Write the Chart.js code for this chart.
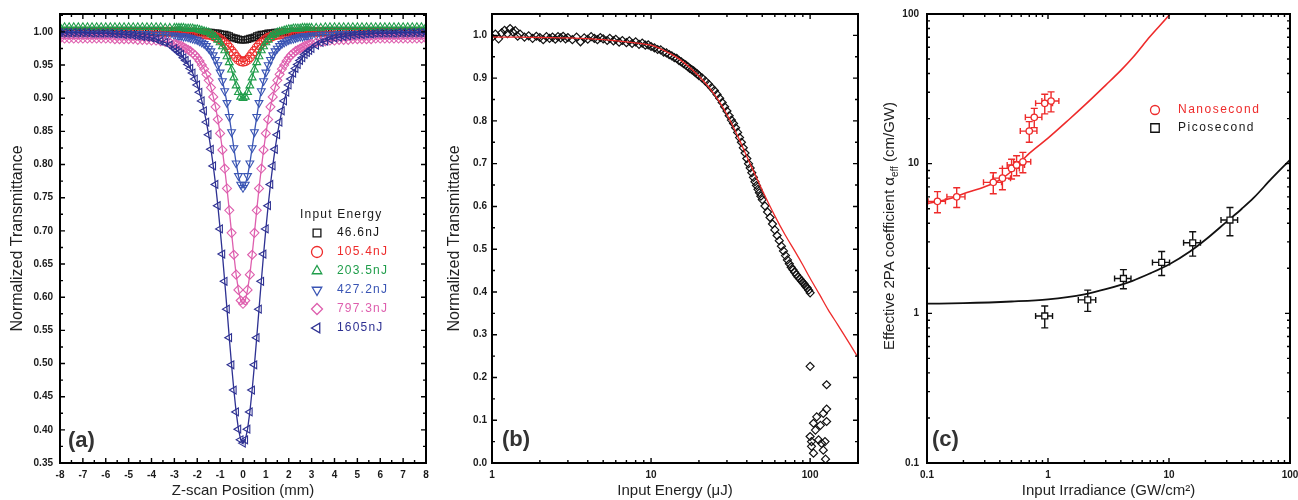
<!DOCTYPE html>
<html><head><meta charset="utf-8">
<script src="https://cdn.jsdelivr.net/npm/chart.js@4.4.1/dist/chart.umd.min.js"></script>
<style>
html,body{margin:0;padding:0;background:#fff;width:1298px;height:500px;overflow:hidden}
canvas{position:absolute;top:0}
#cA{left:0}#cB{left:440px}#cC{left:870px}
</style></head><body>
<canvas id="cA" width="440" height="500"></canvas>
<canvas id="cB" width="430" height="500"></canvas>
<canvas id="cC" width="428" height="500"></canvas>
<script>
// ---------------- Panel (a) data ----------------
const zPos = [-8,-7.8,-7.6,-7.4,-7.2,-7,-6.8,-6.6,-6.4,-6.2,-6,-5.8,-5.6,-5.4,-5.2,-5,-4.8,-4.6,-4.4,-4.2,-4,-3.8,-3.6,-3.4,-3.2,
 -3,-2.9,-2.8,-2.7,-2.6,-2.5,-2.4,-2.3,-2.2,-2.1,-2,-1.9,-1.8,-1.7,-1.6,-1.5,-1.4,-1.3,-1.2,-1.1,-1,-0.9,-0.8,-0.7,-0.6,-0.5,-0.4,-0.3,-0.2,-0.1,
 0,
 0.1,0.2,0.3,0.4,0.5,0.6,0.7,0.8,0.9,1,1.1,1.2,1.3,1.4,1.5,1.6,1.7,1.8,1.9,2,2.1,2.2,2.3,2.4,2.5,2.6,2.7,2.8,2.9,3,
 3.2,3.4,3.6,3.8,4,4.2,4.4,4.6,4.8,5,5.2,5.4,5.6,5.8,6,6.2,6.4,6.6,6.8,7,7.2,7.4,7.6,7.8,8];

const t466 = [
 1,1,1,1,1, 1,1,1,1,1, 1,1,1,1,1, 1,1,1,1,1, 1,1,1,1,1,
 1,1,1,1,1,1,1,1,1,1,1,1, 0.999,0.999,0.999,0.999,0.999, 0.998,0.998,0.998, 0.997,0.996,0.996,0.995,0.994,0.992,0.991,0.990,0.989,0.988,
 0.988,
 0.988,0.989,0.990,0.991,0.992,0.994,0.995,0.996,0.996,0.997, 0.998,0.998,0.998, 0.999,0.999,0.999,0.999,0.999, 1,1,1,1,1,1,1,1,1,1,1,1,
 1,1,1,1,1, 1,1,1,1,1, 1,1,1,1,1, 1,1,1,1,1, 1,1,1,1,1];

const t1054 = [
 1,1,1,1,1, 1,1,1,1,1, 1,1,1,1,1, 1,1,1,1,1, 1,1,1,1,1,
 1,1,1,1, 0.999,0.999,0.999,0.999,0.999, 0.998,0.998,0.998, 0.997,0.997, 0.996,0.996, 0.995,0.994,0.992,0.991,0.989, 0.986,0.983,0.980,0.976,0.971,0.967,0.962,0.958,0.956,
 0.955,
 0.956,0.958,0.962,0.967,0.971,0.976,0.980,0.983,0.986, 0.989,0.991,0.992,0.994,0.995, 0.996,0.996, 0.997,0.997, 0.998,0.998,0.998, 0.999,0.999,0.999,0.999,0.999, 1,1,1,1,
 1,1,1,1,1, 1,1,1,1,1, 1,1,1,1,1, 1,1,1,1,1, 1,1,1,1,1];

const t2035 = [
 1.007,1.007,1.007,1.007,1.007, 1.007,1.007,1.007,1.007,1.007, 1.007,1.007,1.007,1.007,1.007, 1.007,1.007,1.007,1.007,1.007, 1.007,1.007,1.007, 1.006,1.006,
 1.006,1.006,1.006,1.006,1.006, 1.005,1.005,1.005,1.005, 1.004,1.004, 1.003,1.002,1.001,1.000,0.999,0.997,0.995,0.992,0.988,0.984,0.978,0.972,0.963,0.954,0.943,0.931,0.919,0.909,0.902,
 0.900,
 0.902,0.909,0.919,0.931,0.943,0.954,0.963,0.972,0.978,0.984,0.988,0.992,0.995,0.997,0.999,1.000,1.001,1.002,1.003, 1.004,1.004, 1.005,1.005,1.005,1.005, 1.006,1.006,1.006,1.006,1.006,
 1.006,1.006, 1.007,1.007,1.007, 1.007,1.007,1.007,1.007,1.007, 1.007,1.007,1.007,1.007,1.007, 1.007,1.007,1.007,1.007,1.007, 1.007,1.007,1.007,1.007,1.007];

const t4272 = [
 0.997,0.997,0.997,0.997,0.997, 0.997,0.997,0.997,0.997,0.997, 0.997,0.997,0.997,0.997,0.997, 0.997,0.997,0.997,0.997,0.997, 0.996,0.996,0.996,0.996,0.995,
 0.995,0.994,0.994,0.994,0.993,0.993,0.992,0.991,0.990,0.989, 0.988,0.986,0.984,0.982,0.979,0.975,0.971,0.965,0.958,0.950, 0.939,0.926,0.911,0.893,0.872,0.849,0.825,0.802,0.783,0.770,
 0.765,
 0.770,0.783,0.802,0.825,0.849,0.872,0.893,0.911,0.926,0.939, 0.950,0.958,0.965,0.971,0.975,0.979,0.982,0.984,0.986,0.988, 0.989,0.990,0.991,0.992,0.993,0.993,0.994,0.994,0.994,0.995,
 0.995,0.996,0.996,0.996,0.996, 0.997,0.997,0.997,0.997,0.997, 0.997,0.997,0.997,0.997,0.997, 0.997,0.997,0.997,0.997,0.997, 0.997,0.997,0.997,0.997,0.997];

const t7973 = [
 0.990,0.990,0.990,0.990,0.990,0.990,0.990,0.990,0.990,0.990,0.990,0.990, 0.989,0.989,0.989,0.989,0.989, 0.988,0.988,0.988, 0.987,0.987,0.986,0.985,0.984,
 0.982,0.981,0.980,0.979,0.977,0.975,0.973,0.971,0.968,0.965, 0.961,0.956,0.950,0.944,0.936,0.927,0.916,0.902,0.887,0.868, 0.847,0.822,0.794,0.764,0.731,0.697,0.664,0.634,0.611,0.595,
 0.590,
 0.595,0.611,0.634,0.664,0.697,0.731,0.764,0.794,0.822,0.847, 0.868,0.887,0.902,0.916,0.927,0.936,0.944,0.950,0.956,0.961, 0.965,0.968,0.971,0.973,0.975,0.977,0.979,0.980,0.981,0.982,
 0.984,0.985,0.986,0.987,0.987, 0.988,0.988,0.988, 0.989,0.989,0.989,0.989,0.989, 0.990,0.990,0.990,0.990,0.990,0.990,0.990,0.990,0.990,0.990,0.990,0.990];

const t1605 = [
 0.999,0.999,0.999,0.999,0.999,0.999,0.999, 0.998,0.998,0.998,0.998,0.998, 0.997,0.997,0.996,0.996,0.995,0.994,0.993,0.992,0.991,0.989,0.986,0.984,0.980,
 0.975,0.972,0.969,0.966,0.961,0.957,0.951,0.945,0.938,0.929, 0.920,0.909,0.896,0.881,0.864,0.845,0.823,0.798,0.770,0.738, 0.703,0.665,0.624,0.582,0.539,0.498,0.460,0.427,0.401,0.385,
 0.380,
 0.385,0.401,0.427,0.460,0.498,0.539,0.582,0.624,0.665,0.703, 0.738,0.770,0.798,0.823,0.845,0.864,0.881,0.896,0.909,0.920, 0.929,0.938,0.945,0.951,0.957,0.961,0.966,0.969,0.972,0.975,
 0.980,0.984,0.986,0.989,0.991,0.992,0.993,0.994,0.995,0.996,0.996,0.997,0.997, 0.998,0.998,0.998,0.998,0.998, 0.999,0.999,0.999,0.999,0.999,0.999,0.999];

const aLabels = ['46.6nJ','105.4nJ','203.5nJ','427.2nJ','797.3nJ','1605nJ'];
const aSeries = [t466, t1054, t2035, t4272, t7973, t1605];
const aColors = ['#161616','#ee2b2b','#1f9d4a','#3a55b4','#de5fae','#2e3192'];
const aStyles = ['rect','circle','triangle','triangle','rectRot','triangle'];
const aRot = [0,0,0,180,0,-90];
const aXTicks = [-8,-7,-6,-5,-4,-3,-2,-1,0,1,2,3,4,5,6,7,8];
const aYTicks = [0.35,0.40,0.45,0.50,0.55,0.60,0.65,0.70,0.75,0.80,0.85,0.90,0.95,1.00];

// ---------------- Panel (b) data ----------------
const bEnergy = [1.0,1.05,1.1,1.15,1.2,1.25,1.3,1.35,1.4,1.45,1.5,1.6,1.7,1.8,1.9,2.0,2.1,2.2,2.3,2.4,2.5,2.6,2.7,2.8,2.9,3.0,3.2,3.4,3.6,3.8,4.0,4.2,4.4,4.6,4.8,5.0,5.3,5.5,5.8,6.0,6.3,6.6,7.0,7.3,7.6,8.0,8.4,8.8,9.2,9.6,10,10.5,11,11.5,12,12.5,13,13.5,14,14.5,15,15.5,16,16.5,17,17.5,18,18.5,19,19.5,20,21,22,23,24,25,26,27,28,29,30,31,32,33,34,35,36,37,38,39,40,41,42,43,44,45,46,47,48,49,50,52,54,56,58,60,62,64,66,68,70,72,74,76,78,80,82,84,86,88,90,92,94,96,98,100];
const bTrans = [0.995,1.003,0.992,1.006,1.012,1.004,1.016,1.008,1.011,0.998,1.003,0.996,0.999,0.993,0.998,0.995,0.990,0.997,0.993,0.996,0.991,0.997,0.994,0.998,0.992,0.995,0.990,0.996,0.985,0.994,0.991,0.997,0.993,0.990,0.995,0.992,0.988,0.993,0.987,0.991,0.984,0.988,0.983,0.987,0.981,0.985,0.979,0.982,0.977,0.978,0.974,0.971,0.967,0.966,0.961,0.959,0.955,0.952,0.948,0.946,0.941,0.938,0.934,0.931,0.927,0.923,0.920,0.917,0.913,0.910,0.906,0.900,0.893,0.886,0.878,0.871,0.862,0.853,0.843,0.833,0.823,0.812,0.802,0.794,0.784,0.773,0.761,0.750,0.737,0.725,0.712,0.700,0.690,0.679,0.668,0.658,0.649,0.640,0.632,0.624,0.616,0.601,0.587,0.574,0.559,0.545,0.532,0.520,0.507,0.496,0.485,0.475,0.466,0.458,0.452,0.446,0.440,0.435,0.431,0.426,0.422,0.418,0.413,0.409,0.404,0.398];
const bLowE = [100,127,127,127,121,110,105,100,102,105,113,118,124,121,125,102,108,116];
const bLowT = [0.226,0.183,0.126,0.097,0.116,0.108,0.093,0.062,0.039,0.023,0.054,0.046,0.050,0.030,0.009,0.050,0.077,0.088];
const bFitE = [1,1.5,2,3,5,7,10,12,15,20,25,30,35,40,45,50,60,70,80,90,100,115,130,150,175,200];
const bFitT = [0.996,0.996,0.995,0.994,0.990,0.985,0.977,0.965,0.945,0.905,0.862,0.815,0.765,0.717,0.675,0.638,0.578,0.532,0.496,0.463,0.432,0.393,0.358,0.322,0.282,0.247];
const bXTicks = [1,10,100];
const bYTicks = [0,0.1,0.2,0.3,0.4,0.5,0.6,0.7,0.8,0.9,1.0];

// ---------------- Panel (c) data ----------------
const nsI = [0.122,0.176,0.353,0.42,0.50,0.55,0.62,0.70,0.77,0.94,1.06];
const nsA = [5.6,6.0,7.5,8.0,9.3,9.8,10.3,16.5,20.4,25.3,26.2];
const nsIErr = [0.02,0.03,0.06,0.07,0.08,0.09,0.10,0.11,0.12,0.15,0.17];
const nsAErr = [0.9,0.9,1.2,1.3,1.4,1.5,1.6,2.6,3.0,3.8,4.0];
const psI = [0.94,2.13,4.2,8.7,15.7,31.9];
const psA = [0.96,1.23,1.71,2.19,2.96,4.2];
const psIErr = [0.15,0.35,0.65,1.4,2.5,5];
const psAErr = [0.16,0.2,0.25,0.4,0.55,0.9];
const nsFitI = [0.1,0.15,0.2,0.3,0.4,0.5,0.7,1,1.5,2,3,4,5,7,10,11];
const nsFitA = [5.4,5.8,6.3,7.0,7.8,8.9,11.7,14.8,19.8,24.5,33.5,42,51,71,98,108];
const psFitI = [0.1,0.2,0.5,1,2,3,5,7,10,15,20,30,40,50,70,100];
const psFitA = [1.16,1.17,1.2,1.24,1.34,1.45,1.65,1.85,2.12,2.6,3.1,4.1,5.0,5.9,7.9,10.6];
const cXTicks = [0.1,1,10,100];
const cYTicks = [0.1,1,10,100];
const cLabels = ['Nanosecond','Picosecond'];

// ---------------- helpers ----------------
const FAM = "'Liberation Sans', Arial, Helvetica, sans-serif";
const tickFont = {family: FAM, size: 10, weight: 'bold'};
const RED = '#ee2b2b';

function minorLin(min, max, step) { const o = []; const n = Math.round((max - min) / step); for (let i = 0; i <= n; i++) o.push(min + i * step); return o; }
function minorLog(min, max) { const o = []; for (let e = Math.floor(Math.log10(min)); e <= Math.ceil(Math.log10(max)); e++) { for (let k = 1; k <= 9; k++) { const v = k * Math.pow(10, e); if (v >= min * 0.999 && v <= max * 1.001) o.push(v); } } return o; }
function pts(xs, ys) { const o = []; for (let i = 0; i < xs.length && i < ys.length; i++) o.push({x: xs[i], y: ys[i]}); return o; }

function axis(o) {
  return {
    type: o.type, min: o.min, max: o.max, position: o.horiz ? 'bottom' : 'left',
    afterBuildTicks: s => { s.ticks = o.ticks.map(v => ({value: v})); },
    afterFit: s => { if (o.horiz) { s.height = 37; s.paddingLeft = 0; s.paddingRight = 0; } else { s.width = o.width; s.paddingTop = 0; s.paddingBottom = 0; } },
    grid: {display: false, drawTicks: false}, border: {display: false},
    ticks: {font: tickFont, color: '#1a1a1a', padding: o.pad, autoSkip: false, maxRotation: 0, minRotation: 0, callback: v => o.fmt(v)},
    title: o.title ? {display: true, text: o.title, color: '#222', font: {family: FAM, size: o.titleSize}, padding: o.titlePad} : {display: false}
  };
}

function framePlugin(id, xMinor, yMinor) {
  return { id, afterDatasetsDraw(chart) {
    const {ctx, chartArea: a, scales: {x, y}} = chart;
    ctx.save(); ctx.strokeStyle = '#000'; ctx.lineWidth = 1.4; ctx.beginPath();
    const doT = (vals, len, isX) => vals.forEach(v => {
      if (isX) { const p = x.getPixelForValue(v); if (p < a.left - 0.5 || p > a.right + 0.5) return; ctx.moveTo(p, a.bottom); ctx.lineTo(p, a.bottom - len); ctx.moveTo(p, a.top); ctx.lineTo(p, a.top + len); }
      else { const p = y.getPixelForValue(v); if (p < a.top - 0.5 || p > a.bottom + 0.5) return; ctx.moveTo(a.left, p); ctx.lineTo(a.left + len, p); ctx.moveTo(a.right, p); ctx.lineTo(a.right - len, p); }
    });
    doT(x.ticks.map(t => t.value), 5, true); doT(xMinor, 3, true);
    doT(y.ticks.map(t => t.value), 5, false); doT(yMinor, 3, false);
    ctx.stroke();
    ctx.lineWidth = 2; ctx.strokeRect(a.left, a.top, a.right - a.left, a.bottom - a.top);
    ctx.restore();
  }};
}

function marker(ctx, style, rot, x, y, r, color, lw) {
  ctx.save(); ctx.strokeStyle = color; ctx.lineWidth = lw; ctx.beginPath();
  const rad = rot * Math.PI / 180;
  if (style === 'rect') { const s = r * Math.SQRT1_2; ctx.rect(x - s, y - s, 2 * s, 2 * s); }
  else if (style === 'circle') { ctx.arc(x, y, r, 0, Math.PI * 2); }
  else if (style === 'rectRot') { ctx.moveTo(x, y - r); ctx.lineTo(x + r, y); ctx.lineTo(x, y + r); ctx.lineTo(x - r, y); ctx.closePath(); }
  else if (style === 'triangle') { let a = rad; ctx.moveTo(x + Math.sin(a) * r, y - Math.cos(a) * r); a += 2 * Math.PI / 3; ctx.lineTo(x + Math.sin(a) * r, y - Math.cos(a) * r); a += 2 * Math.PI / 3; ctx.lineTo(x + Math.sin(a) * r, y - Math.cos(a) * r); ctx.closePath(); }
  ctx.stroke(); ctx.restore();
}

function panelLabel(ctx, text, x, y) {
  ctx.save(); ctx.font = "bold 22px " + FAM; ctx.fillStyle = '#333'; ctx.textBaseline = 'middle'; ctx.textAlign = 'left'; ctx.fillText(text, x, y); ctx.restore();
}

const common = {responsive: false, animation: false, devicePixelRatio: 1, events: [], plugins: {legend: {display: false}, tooltip: {enabled: false}}};

// ---------------- Chart (a) ----------------
new Chart(document.getElementById('cA'), {
  type: 'scatter',
  data: {datasets: aSeries.map((s, i) => ({
    label: aLabels[i], data: pts(zPos, s), showLine: true, borderColor: aColors[i], borderWidth: 1.3,
    pointStyle: aStyles[i], pointRotation: aRot[i], pointRadius: 4.5, pointBorderWidth: 1.1,
    pointBorderColor: aColors[i], pointBackgroundColor: 'rgba(0,0,0,0)', order: 5 - i
  }))},
  options: Object.assign({}, common, {
    layout: {padding: {left: 0, right: 14, top: 14, bottom: 0}},
    scales: {
      x: axis({type: 'linear', horiz: true, min: -8, max: 8, ticks: aXTicks, pad: 6, fmt: v => String(v), title: 'Z-scan Position (mm)', titleSize: 15, titlePad: {top: 0, bottom: 0}}),
      y: axis({type: 'linear', min: 0.35, max: 1.027, ticks: aYTicks, width: 60, pad: 7, fmt: v => v.toFixed(2), title: 'Normalized Transmittance', titleSize: 16, titlePad: {top: 8, bottom: 0}})
    }
  }),
  plugins: [framePlugin('frameA', minorLin(-8, 8, 0.5), minorLin(0.35, 1.025, 0.025)), {
    id: 'overA', afterDraw(chart) {
      const ctx = chart.ctx;
      panelLabel(ctx, '(a)', 68, 441);
      ctx.save(); ctx.font = "12px " + FAM; ctx.letterSpacing = '1.2px'; ctx.textBaseline = 'middle'; ctx.fillStyle = '#1a1a1a';
      ctx.fillText('Input Energy', 300, 215);
      aLabels.forEach((l, i) => {
        const y = 233 + i * 19;
        marker(ctx, aStyles[i], aRot[i], 317, y, 5.5, aColors[i], 1.3);
        ctx.fillStyle = aColors[i]; ctx.fillText(l, 337, y);
      });
      ctx.restore();
    }
  }]
});

// ---------------- Chart (b) ----------------
new Chart(document.getElementById('cB'), {
  type: 'scatter',
  data: {datasets: [
    {label: 'fit', data: pts(bFitE, bFitT), showLine: true, borderColor: RED, borderWidth: 1.3, pointRadius: 0, tension: 0.3},
    {label: 'data', data: pts(bEnergy, bTrans).concat(pts(bLowE, bLowT)), showLine: false, pointStyle: 'rectRot', pointRadius: 4, pointBorderWidth: 1.2, pointBorderColor: '#111', pointBackgroundColor: 'rgba(0,0,0,0)'}
  ]},
  options: Object.assign({}, common, {
    layout: {padding: {left: 0, right: 12, top: 14, bottom: 0}},
    scales: {
      x: axis({type: 'logarithmic', horiz: true, min: 1, max: 200, ticks: bXTicks, pad: 6, fmt: v => String(v), title: 'Input Energy (\u03BCJ)', titleSize: 15, titlePad: {top: 0, bottom: 0}}),
      y: axis({type: 'linear', min: 0, max: 1.05, ticks: bYTicks, width: 52, pad: 5, fmt: v => v.toFixed(1), title: 'Normalized Transmittance', titleSize: 16, titlePad: {top: 5, bottom: 0}})
    }
  }),
  plugins: [framePlugin('frameB', minorLog(1, 200), minorLin(0, 1.05, 0.05)), {
    id: 'overB', afterDraw(chart) { panelLabel(chart.ctx, '(b)', 62, 440); }
  }]
});

// ---------------- Chart (c) ----------------
const errPlugin = {
  id: 'errC', beforeDatasetsDraw(chart) {
    const {ctx, scales: {x, y}} = chart;
    chart.data.datasets.forEach(ds => {
      if (!ds.errX) return;
      ctx.save(); ctx.strokeStyle = ds.pointBorderColor; ctx.lineWidth = 1.4; ctx.beginPath();
      ds.data.forEach((p, i) => {
        const px = x.getPixelForValue(p.x), py = y.getPixelForValue(p.y);
        const y1 = y.getPixelForValue(p.y - ds.errY[i]), y2 = y.getPixelForValue(p.y + ds.errY[i]);
        const x1 = x.getPixelForValue(p.x - ds.errX[i]), x2 = x.getPixelForValue(p.x + ds.errX[i]);
        ctx.moveTo(px, y1); ctx.lineTo(px, y2);
        ctx.moveTo(px - 3.5, y1); ctx.lineTo(px + 3.5, y1);
        ctx.moveTo(px - 3.5, y2); ctx.lineTo(px + 3.5, y2);
        ctx.moveTo(x1, py); ctx.lineTo(x2, py);
        ctx.moveTo(x1, py - 3); ctx.lineTo(x1, py + 3);
        ctx.moveTo(x2, py - 3); ctx.lineTo(x2, py + 3);
      });
      ctx.stroke(); ctx.restore();
    });
  }
};

new Chart(document.getElementById('cC'), {
  type: 'scatter',
  data: {datasets: [
    {label: cLabels[0], data: pts(nsI, nsA), errX: nsIErr, errY: nsAErr, pointStyle: 'circle', pointRadius: 3.2, pointBorderWidth: 1.3, pointBorderColor: RED, pointBackgroundColor: '#fff'},
    {label: cLabels[1], data: pts(psI, psA), errX: psIErr, errY: psAErr, pointStyle: 'rect', pointRadius: 4.2, pointBorderWidth: 1.3, pointBorderColor: '#111', pointBackgroundColor: '#fff'},
    {label: 'ns fit', data: pts(nsFitI, nsFitA), showLine: true, borderColor: RED, borderWidth: 1.6, pointRadius: 0, cubicInterpolationMode: 'monotone'},
    {label: 'ps fit', data: pts(psFitI, psFitA), showLine: true, borderColor: '#111', borderWidth: 1.8, pointRadius: 0, cubicInterpolationMode: 'monotone'}
  ]},
  options: Object.assign({}, common, {
    layout: {padding: {left: 0, right: 8, top: 14, bottom: 0}},
    scales: {
      x: axis({type: 'logarithmic', horiz: true, min: 0.1, max: 100, ticks: cXTicks, pad: 6, fmt: v => String(v), title: 'Input Irradiance (GW/cm\u00B2)', titleSize: 15, titlePad: {top: 0, bottom: 0}}),
      y: axis({type: 'logarithmic', min: 0.1, max: 100, ticks: cYTicks, width: 57, pad: 8, fmt: v => String(v)})
    }
  }),
  plugins: [errPlugin, framePlugin('frameC', minorLog(0.1, 100), minorLog(0.1, 100)), {
    id: 'overC', afterDraw(chart) {
      const ctx = chart.ctx;
      panelLabel(ctx, '(c)', 62, 440);
      // legend
      ctx.save(); ctx.font = "12px " + FAM; ctx.letterSpacing = '1.5px'; ctx.textBaseline = 'middle';
      marker(ctx, 'circle', 0, 285, 110, 4.5, RED, 1.3);
      ctx.fillStyle = RED; ctx.fillText(cLabels[0], 308, 110);
      marker(ctx, 'rect', 0, 285, 128, 6, '#111', 1.3);
      ctx.fillStyle = '#1a1a1a'; ctx.fillText(cLabels[1], 308, 128);
      ctx.restore();
      // rotated y title with subscript
      ctx.save(); ctx.translate(20, 226); ctx.rotate(-Math.PI / 2);
      ctx.fillStyle = '#222'; ctx.textBaseline = 'middle'; ctx.textAlign = 'left';
      const f1 = "15px " + FAM, f2 = "10px " + FAM;
      const p1 = 'Effective 2PA coefficient \u03B1', p2 = 'eff', p3 = ' (cm/GW)';
      ctx.font = f1; const w1 = ctx.measureText(p1).width, w3 = ctx.measureText(p3).width;
      ctx.font = f2; const w2 = ctx.measureText(p2).width;
      let sx = -(w1 + w2 + w3) / 2;
      ctx.font = f1; ctx.fillText(p1, sx, 0); sx += w1;
      ctx.font = f2; ctx.fillText(p2, sx, 5); sx += w2;
      ctx.font = f1; ctx.fillText(p3, sx, 0);
      ctx.restore();
    }
  }]
});
</script>
</body></html>
